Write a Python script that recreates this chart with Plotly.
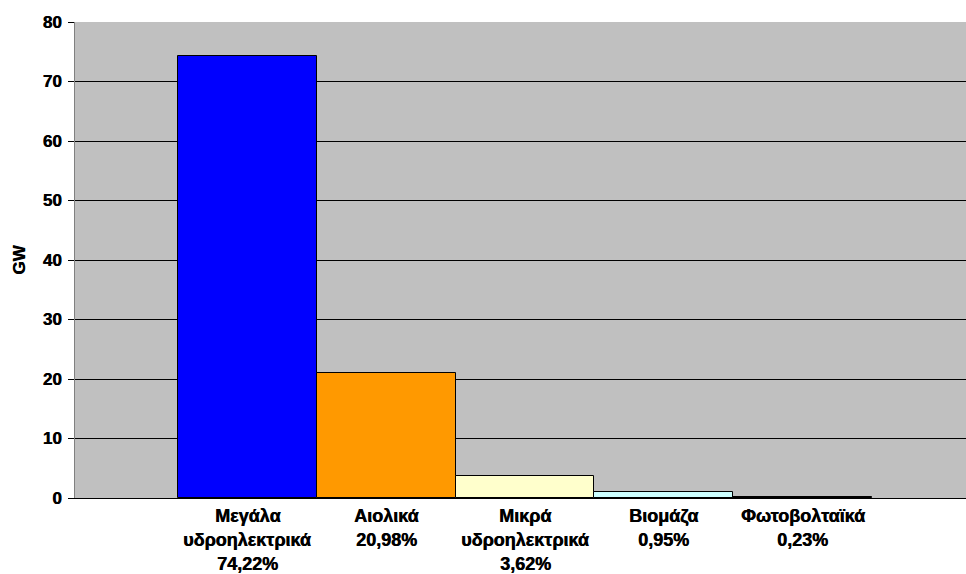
import plotly.graph_objects as go

categories = [["Μεγάλα", "υδροηλεκτρικά"], ["Αιολικά"], ["Μικρά", "υδροηλεκτρικά"], ["Βιομάζα"], ["Φωτοβολταϊκά"]]
percents = ["74,22%", "20,98%", "3,62%", "0,95%", "0,23%"]
values_gw = [74.22, 20.98, 3.62, 0.95, 0.23]
colors = ["#0000FF", "#FF9900", "#FFFFCC", "#CCFFFF", "#000000"]
y_ticks = [0, 10, 20, 30, 40, 50, 60, 70, 80]

xpos = list(range(len(values_gw)))
font_fam = "Arial, Liberation Sans, sans-serif"
thick = "0.5px 0px 0px #000000"

fig = go.Figure()
fig.add_trace(go.Bar(
    x=xpos, y=values_gw, width=1,
    marker=dict(color=colors, line=dict(color="#000000", width=1)),
    hoverinfo="skip",
))

annotations = []
for i, (lines, pct) in enumerate(zip(categories, percents)):
    all_lines = list(lines) + [pct]
    for j, t in enumerate(all_lines):
        annotations.append(dict(
            x=xpos[i], xref="x", y=0, yref="paper",
            text=t, showarrow=False,
            xanchor="center", yanchor="middle", yshift=-18 - 24 * j,
            font=dict(family=font_fam, size=18, color="#000000", weight="bold", shadow=thick),
        ))

fig.update_layout(
    width=966, height=574,
    margin=dict(l=75, r=0, t=22, b=76),
    paper_bgcolor="#FFFFFF", plot_bgcolor="#C0C0C0",
    showlegend=False,
    bargap=0,
    annotations=annotations,
    font=dict(family=font_fam, color="#000000"),
)
fig.update_xaxes(
    range=[-1.241, 5.176], showticklabels=False, showgrid=False, zeroline=False,
    showline=True, linecolor="#000000", linewidth=1, ticks="",
)
fig.update_yaxes(
    range=[0, 80], tickvals=y_ticks, ticktext=[str(v) for v in y_ticks],
    showgrid=True, gridcolor="#000000", gridwidth=1, zeroline=False,
    showline=True, linecolor="#808080", linewidth=1,
    ticks="outside", ticklen=6, tickcolor="#000000", ticklabelstandoff=3,
    tickfont=dict(family=font_fam, size=17, color="#000000", weight="bold", shadow=thick),
    title=dict(text="GW", font=dict(family=font_fam, size=17, color="#000000", weight="bold", shadow=thick), standoff=12),
)

fig.write_html("out.html")
